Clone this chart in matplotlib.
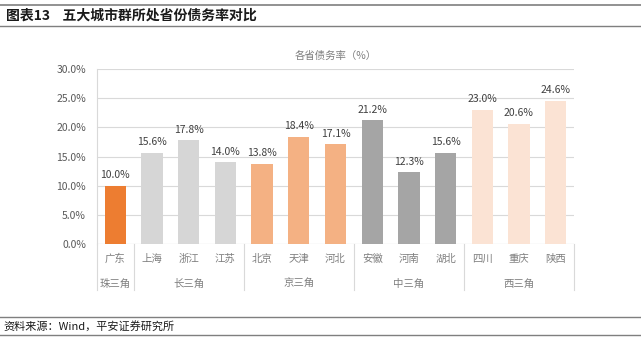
"""五大城市群所处省份债务率对比 bar chart."""
import matplotlib
matplotlib.use('Agg')
import matplotlib.pyplot as plt
from matplotlib.transforms import blended_transform_factory
import numpy as np

plt.rcParams['font.family'] = ['Noto Sans CJK SC', 'DejaVu Sans']

# data
provinces = ['广东', '上海', '浙江', '江苏', '北京', '天津', '河北',
             '安徽', '河南', '湖北', '四川', '重庆', '陕西']
debt_rate = [10.0, 15.6, 17.8, 14.0, 13.8, 18.4, 17.1,
             21.2, 12.3, 15.6, 23.0, 20.6, 24.6]
groups = ['珠三角', '长三角', '京三角', '中三角', '西三角']
group_sizes = [1, 3, 3, 3, 3]
group_colors = ['#ED7D31', '#D6D6D6', '#F4B183', '#A5A5A5', '#FBE3D4']

GRID = '#D9D9D9'
TXT = '#595959'

fig = plt.figure(figsize=(6.41, 3.39), dpi=100)

# header / footer rules and text
for y, lw in [(1 - 5 / 339, 1.2), (1 - 26 / 339, 1.0), (1 - 317 / 339, 1.0), (1 - 335 / 339, 1.0)]:
    fig.add_artist(plt.Line2D([0, 1], [y, y], color='#7F7F7F', lw=lw))
fig.text(6 / 641, 1 - 16 / 339, '图表13    五大城市群所处省份债务率对比',
         fontsize=10, fontweight='bold', va='center', ha='left', color='#1A1A1A')
fig.text(3 / 641, 1 - 326 / 339, '资料来源：Wind，平安证券研究所',
         fontsize=8, style='italic', va='center', ha='left', color='#1A1A1A')

ax = fig.add_axes([97 / 641, 1 - 244 / 339, 477 / 641, 175 / 339])
x = np.arange(len(provinces))
colors = []
for c, n in zip(group_colors, group_sizes):
    colors += [c] * n
bars = ax.bar(x, debt_rate, width=0.58, color=colors, zorder=3)
for b, v in zip(bars, debt_rate):
    ax.annotate(f'{v:.1f}%', (b.get_x() + b.get_width() / 2, v),
                xytext=(0, 4), textcoords='offset points',
                ha='center', va='bottom', fontsize=7.5, color='#404040')

ax.set_xlim(-0.5, len(provinces) - 0.5)
ax.set_ylim(0, 30)
ax.set_yticks(np.arange(0, 31, 5))
ax.set_yticklabels([f'{t:.1f}%' for t in np.arange(0, 31, 5)], fontsize=7.5, color=TXT)
ax.tick_params(axis='y', length=0, pad=8)
ax.grid(axis='y', color=GRID, lw=0.8, zorder=0)
for s in ['top', 'right', 'bottom']:
    ax.spines[s].set_visible(False)
ax.spines['left'].set_color(GRID)
ax.axhline(0, color=GRID, lw=0.8, zorder=1)

ax.set_xticks(x)
ax.set_xticklabels(provinces, fontsize=7.5, color='#7F7F7F')
ax.tick_params(axis='x', length=0, pad=7)

# group labels and separators below the axis
tr = blended_transform_factory(ax.transData, ax.transAxes)
edges = np.concatenate([[0], np.cumsum(group_sizes)]) - 0.5
for e in edges:
    ax.plot([e, e], [0, -0.263], transform=tr, color=GRID, lw=0.8, clip_on=False)
for g, lo, hi in zip(groups, edges[:-1], edges[1:]):
    ax.text((lo + hi) / 2, -0.225, g, transform=tr, ha='center', va='center',
            fontsize=7.5, color='#7F7F7F')

ax.set_title('各省债务率（%）', fontsize=7.5, color='#7F7F7F', pad=7)

fig.savefig('out.png', dpi=100, facecolor='white')
